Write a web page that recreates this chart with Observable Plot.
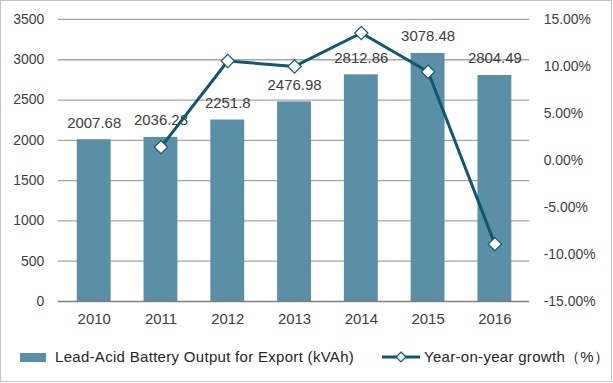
<!DOCTYPE html>
<html>
<head>
<meta charset="utf-8">
<script src="https://cdn.jsdelivr.net/npm/d3@7"></script>
<script src="https://cdn.jsdelivr.net/npm/@observablehq/plot@0.6"></script>
<style>
  html, body { margin: 0; padding: 0; background: #fff; }
  #frame { position: relative; width: 612px; height: 382px; box-sizing: border-box; border: 1px solid #c4c4c4; overflow: hidden; font-family: "Liberation Sans", Arial, sans-serif; color: #404040; }
  #chart { position: absolute; left: -1px; top: -1px; }
  .leg { position: absolute; font-size: 15px; letter-spacing: 0.3px; color: #262626; line-height: 16px; white-space: nowrap; }
</style>
</head>
<body>
<div id="frame">
  <div id="chart"></div>
  <div class="leg" style="left:19px; top:348px;"><span style="display:inline-block;width:26px;height:9px;background:#5b8fa6;vertical-align:middle;margin-right:9px;position:relative;top:-1px;"></span>Lead-Acid Battery Output for Export (kVAh)</div>
  <div class="leg" style="left:381px; top:348px;">
    <svg width="38" height="14" style="vertical-align:middle;margin-right:4px;position:relative;top:-1px;">
      <line x1="0" y1="7" x2="38" y2="7" stroke="#0e5870" stroke-width="3"/>
      <path d="M19,2 L24,7 L19,12 L14,7 Z" fill="#fff" stroke="#0e5870" stroke-width="1.2"/>
    </svg>Year-on-year growth（%）</div>
</div>
<script>
const years = ["2010", "2011", "2012", "2013", "2014", "2015", "2016"];
const output = [2007.68, 2036.28, 2251.8, 2476.98, 2812.86, 3078.48, 2804.49];
const labels = ["2007.68", "2036.28", "2251.8", "2476.98", "2812.86", "3078.48", "2804.49"];
const growthYears = ["2011", "2012", "2013", "2014", "2015", "2016"];
const growth = [1.42, 10.58, 10.0, 13.56, 9.44, -8.9];
const leftTicks = [0, 500, 1000, 1500, 2000, 2500, 3000, 3500];
const rightTicks = [-15, -10, -5, 0, 5, 10, 15];

const yMax = 3500, gMin = -15, gMax = 15;
const g2y = g => (g - gMin) / (gMax - gMin) * yMax;

const bars = years.map((y, i) => ({year: y, value: output[i], label: labels[i]}));
const line = growthYears.map((y, i) => ({year: y, g: growth[i], v: g2y(growth[i])}));

const font = "Liberation Sans, Arial, sans-serif";
const chart = Plot.plot({
  width: 613,
  height: 340,
  marginLeft: 58,
  marginRight: 82,
  marginTop: 19,
  marginBottom: 38,
  style: {fontFamily: font, fontSize: "14px", color: "#404040", background: "transparent"},
  x: {domain: years, paddingInner: 0.5, paddingOuter: 0.25, label: null},
  y: {domain: [0, yMax], label: null},
  marks: [
    Plot.ruleY(leftTicks.slice(1), {stroke: "#a6a6a6", strokeWidth: 1.3}),
    Plot.axisY({ticks: leftTicks, tickSize: 0, tickPadding: 14, label: null, tickFormat: d => String(d), fontSize: 14, fill: "#404040"}),
    Plot.axisY({anchor: "right", ticks: rightTicks.map(g2y), tickSize: 0, tickPadding: 14, label: null,
      tickFormat: v => (Math.round(v / yMax * (gMax - gMin) + gMin)).toFixed(2) + "%", fontSize: 14, fill: "#404040", textAnchor: "start"}),
    Plot.axisX({tickSize: 0, tickPadding: 12, label: null, fontSize: 15, fill: "#404040"}),
    Plot.barY(bars, {x: "year", y: "value", fill: "#5b8fa6"}),
    Plot.ruleY([0], {stroke: "#7f7f7f", strokeWidth: 1.5}),
    Plot.text(bars, {x: "year", y: "value", text: "label", dy: -17, fontSize: 15, fill: "#404040"}),
    Plot.line(line, {x: "year", y: "v", stroke: "#0e5870", strokeWidth: 3}),
    Plot.dot(line, {x: "year", y: "v", symbol: "diamond2", r: 6, fill: "#fff", stroke: "#0e5870", strokeWidth: 1.2})
  ]
});
document.getElementById("chart").appendChild(chart);
</script>
</body>
</html>
